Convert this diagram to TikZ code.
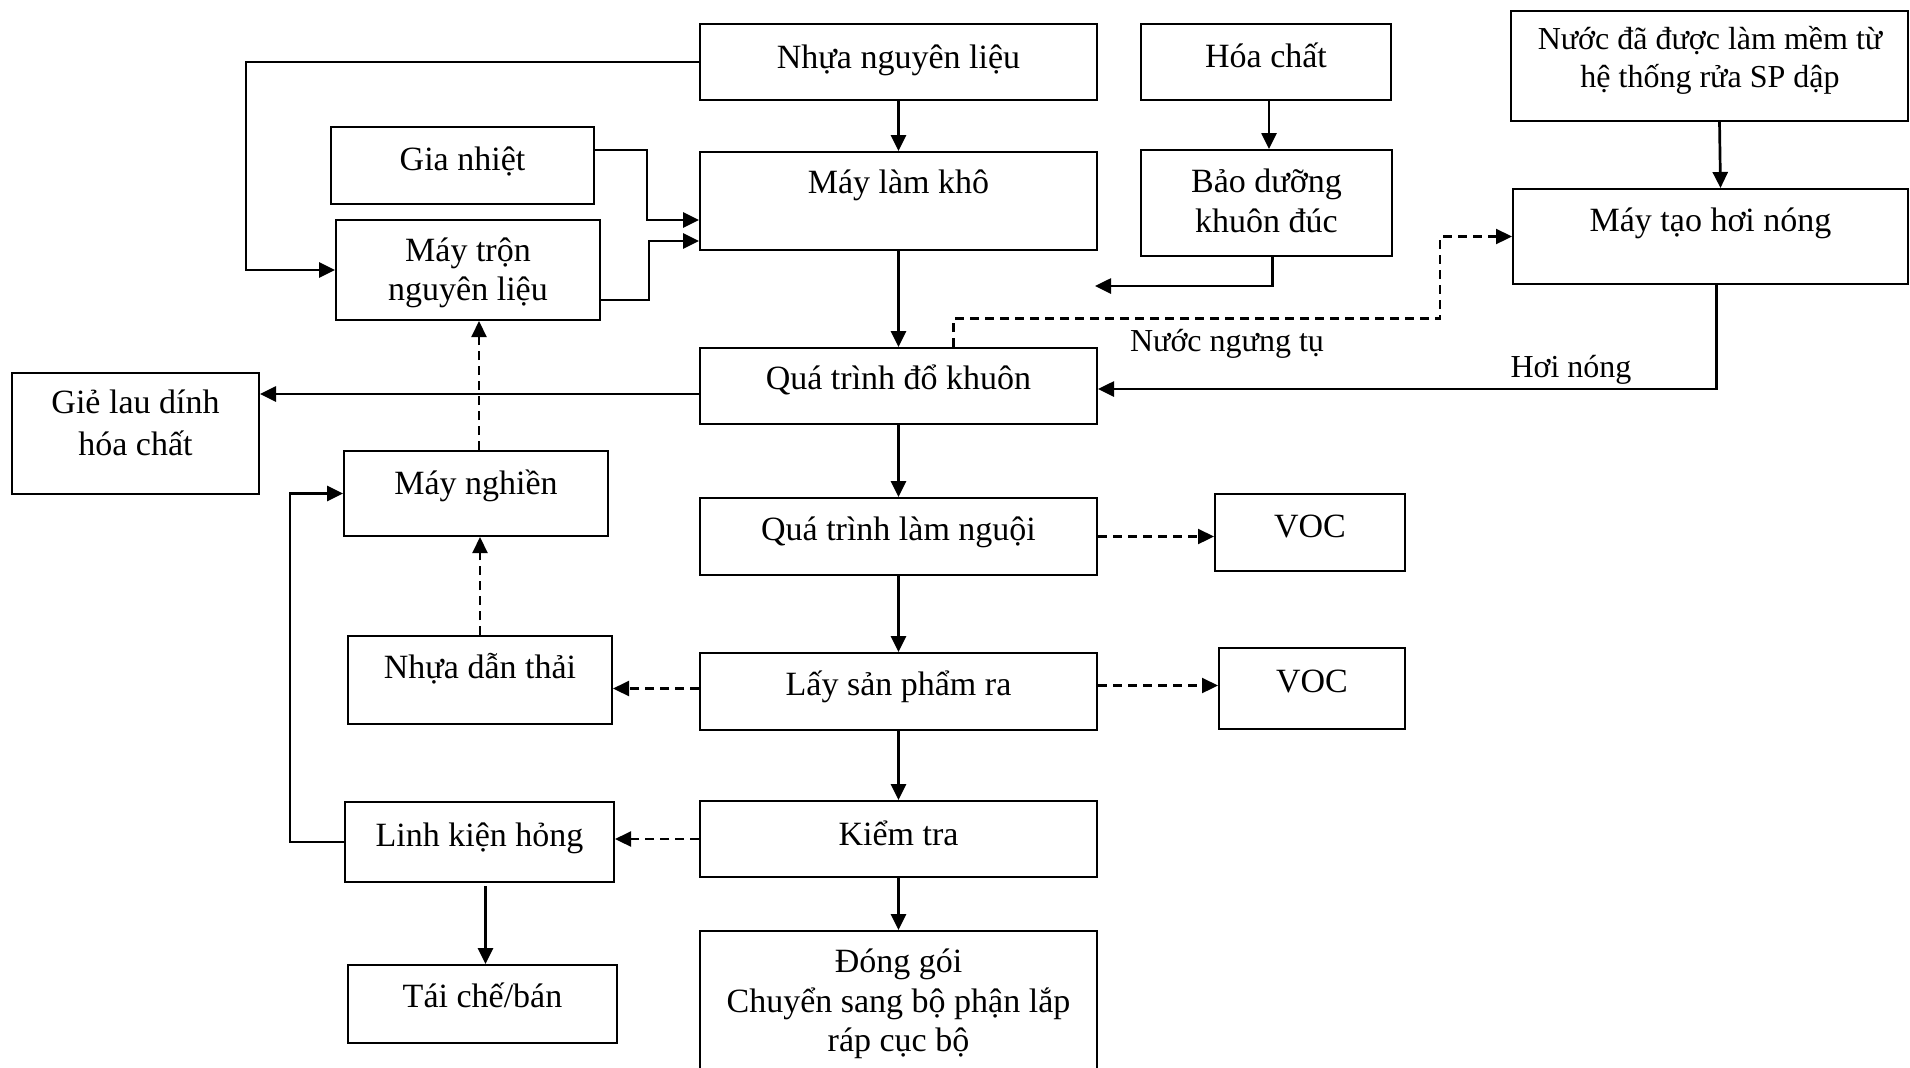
\documentclass[tikz,border=0pt]{standalone}
\usepackage{fontspec}
\setmainfont{Liberation Serif}
\usetikzlibrary{arrows.meta,calc,fit}

\begin{document}
\begin{tikzpicture}[x=0.5pt,y=-0.5pt,
  box/.style={draw,line width=1pt,inner sep=0pt,fit={#1}},
  lbl/.style={anchor=base,inner sep=0pt,font=\fontsize{17pt}{20pt}\selectfont},
  small/.style={font=\fontsize{16pt}{19pt}\selectfont},
  arr/.style={line width=1.35pt,-{Triangle[length=8pt,width=7.5pt]}},
  darr/.style={arr,line width=1.1pt,dash pattern=on 4.5pt off 3pt}]
\useasboundingbox (0,0) rectangle (1910,1067);
\clip (0,0) rectangle (1910,1067);

% boxes
\node[box={(700,24) (1097,100)}]    (nhua) {};
\node[box={(1141,24) (1391,100)}]   (hoachat) {};
\node[box={(1511,11) (1908,121)}]   (nuoc) {};
\node[box={(331,127) (594,204)}]    (gianhiet) {};
\node[box={(700,152) (1097,250)}]   (lamkho) {};
\node[box={(1141,150) (1392,256)}]  (baoduong) {};
\node[box={(336,220) (600,320)}]    (tron) {};
\node[box={(1513,189) (1908,284)}]  (taohoi) {};
\node[box={(700,348) (1097,424)}]   (dokhuon) {};
\node[box={(12,373) (259,494)}]     (gielau) {};
\node[box={(344,451) (608,536)}]    (nghien) {};
\node[box={(700,498) (1097,575)}]   (lamnguoi) {};
\node[box={(1215,494) (1405,571)}]  (voca) {};
\node[box={(348,636) (612,724)}]    (danthai) {};
\node[box={(700,653) (1097,730)}]   (layra) {};
\node[box={(1219,648) (1405,729)}]  (vocb) {};
\node[box={(345,802) (614,882)}]    (hong) {};
\node[box={(700,801) (1097,877)}]   (kiemtra) {};
\node[box={(348,965) (617,1043)}]   (taiche) {};
\node[box={(700,931) (1097,1095)}]  (donggoi) {};

% box texts
\node[lbl] (nhua-t)     at (898.5,68)  {Nhựa nguyên liệu};
\node[lbl] (hoachat-t)  at (1266,67)   {Hóa chất};
\node[lbl,small] (nuoc-t1) at (1710,49) {Nước đã được làm mềm từ};
\node[lbl,small] (nuoc-t2) at (1710,87) {hệ thống rửa SP dập};
\node[lbl] (gianhiet-t) at (462.5,170) {Gia nhiệt};
\node[lbl] (lamkho-t)   at (898.5,193) {Máy làm khô};
\node[lbl] (baoduong-t1) at (1266.5,192) {Bảo dưỡng};
\node[lbl] (baoduong-t2) at (1266.5,232) {khuôn đúc};
\node[lbl] (tron-t1)    at (468,261)   {Máy trộn};
\node[lbl] (tron-t2)    at (468,300)   {nguyên liệu};
\node[lbl] (taohoi-t)   at (1710.5,231) {Máy tạo hơi nóng};
\node[lbl] (dokhuon-t)  at (898.5,389) {Quá trình đổ khuôn};
\node[lbl] (gielau-t1)  at (135.5,413) {Giẻ lau dính};
\node[lbl] (gielau-t2)  at (135.5,455) {hóa chất};
\node[lbl] (nghien-t)   at (476,494)   {Máy nghiền};
\node[lbl] (lamnguoi-t) at (898.5,540) {Quá trình làm nguội};
\node[lbl] (voca-t)     at (1310,537)  {VOC};
\node[lbl] (danthai-t)  at (480,678)   {Nhựa dẫn thải};
\node[lbl] (layra-t)    at (898.5,695) {Lấy sản phẩm ra};
\node[lbl] (vocb-t)     at (1312,692)  {VOC};
\node[lbl] (hong-t)     at (479.5,846) {Linh kiện hỏng};
\node[lbl] (kiemtra-t)  at (898.5,845) {Kiểm tra};
\node[lbl] (taiche-t)   at (482.5,1007) {Tái chế/bán};
\node[lbl] (donggoi-t1) at (898.5,972)  {Đóng gói};
\node[lbl] (donggoi-t2) at (898.5,1012) {Chuyển sang bộ phận lắp};
\node[lbl] (donggoi-t3) at (898.5,1051) {ráp cục bộ};

% flow labels
\node[lbl,small] (ngungtu) at (1227,351) {Nước ngưng tụ};
\node[lbl,small] (hoinong) at (1571,377) {Hơi nóng};

% main line
\draw[arr] (nhua) -- (lamkho);
\draw[arr] (lamkho) -- (dokhuon);
\draw[arr] (dokhuon) -- (lamnguoi);
\draw[arr] (lamnguoi) -- (layra);
\draw[arr] (layra) -- (kiemtra);
\draw[arr] (kiemtra) -- (donggoi);

% raw material, heating and mixing
\draw[arr] (nhua.west) -| ($(tron.west)+(-89,0)$) -- (tron.west);
\draw[arr] ($(gianhiet.north east)+(0,24)$) -| ($(lamkho.west)+(-52,19)$) -- ($(lamkho.west)+(0,19)$);
\draw[arr] ($(tron.east)+(0,30)$) -| ($(lamkho.west)+(-50,40)$) -- ($(lamkho.west)+(0,40)$);

% chemicals and mould care
\draw[arr] ($(hoachat.south)+(3,0)$) coordinate (hc) -- (hc |- baoduong.north);
\coordinate (bdend) at (1095,286);
\draw[arr] ($(baoduong.south)+(6,0)$) |- (bdend);

% steam loop
\draw[arr] ($(nuoc.south)+(10,0)$) -- ($(taohoi.north)+(10,0)$);
\draw[darr] ($(dokhuon.north)+(55,0)$) |- ($(taohoi.west)+(-72,82)$) |- (taohoi.west);
\draw[arr] ($(taohoi.south)+(6,0)$) |- ($(dokhuon.east)+(0,3)$);

% wastes
\draw[arr] ($(dokhuon.west)+(0,8)$) coordinate (gl) -- (gl -| gielau.east);
\draw[darr] (lamnguoi.east) -- (lamnguoi.east -| voca.west);
\draw[darr] ($(layra.east)+(0,-6)$) coordinate (lb) -- (lb -| vocb.west);
\draw[darr] ($(layra.west)+(0,-3)$) coordinate (la) -- (la -| danthai.east);
\draw[darr] (kiemtra.west) -- (kiemtra.west -| hong.east);

% recycling
\draw[darr] (danthai.north) -- (danthai.north |- nghien.south);
\draw[darr] ($(nghien.north)+(3,0)$) coordinate (ng) -- (ng |- tron.south);
\draw[arr] (hong.west) -| ($(nghien.west)+(-53,0)$) -- (nghien.west);
\draw[arr] ($(hong.south)+(6,3)$) coordinate (hs) -- (hs |- taiche.north);
\end{tikzpicture}
\end{document}
